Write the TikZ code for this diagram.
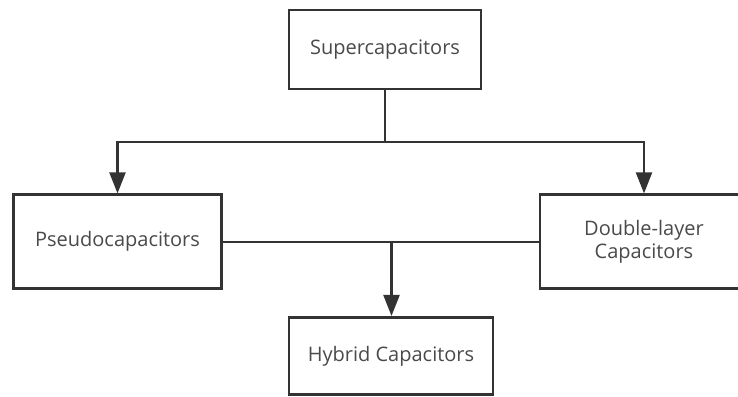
\documentclass[tikz,border=0pt]{standalone}
\usepackage{fontspec}
\setmainfont{Open Sans}
\usetikzlibrary{arrows.meta,positioning}
\definecolor{linec}{HTML}{333333}
\definecolor{textc}{HTML}{4A4A4A}
\tikzset{
  boxnode/.style={draw=linec, line width=2.6pt, rectangle, inner sep=0pt, fill=white,
    text=textc, font=\fontsize{20}{23}\selectfont, align=center},
  conn/.style={draw=linec, line width=2.2pt},
  arr/.style={conn, -{Triangle[length=21pt,width=16pt]}}
}
\begin{document}
\begin{tikzpicture}[x=1pt,y=-1pt]
\useasboundingbox (0,0) rectangle (738,396);
\fill[white] (0,0) rectangle (738,396);
\clip (0,0) rectangle (738,396);
\node[boxnode, minimum width=192pt, minimum height=79pt] (sup) at (385,49.5) {Supercapacitors};
\node[boxnode, minimum width=208pt, minimum height=94pt] (pseudo) at (117.5,241.7) {Pseudocapacitors};
\node[boxnode, minimum width=208pt, minimum height=94pt] (dbl) at (644,241.7) {Double-layer\\Capacitors};
\node[boxnode, minimum width=204pt, minimum height=77.5pt] (hyb) at (391,356) {Hybrid Capacitors};
\coordinate (j1) at (385,142);
\coordinate (j2) at (391.5,241.7);
\draw[conn] (sup.south) -- (j1);
\draw[conn] (118,142) -- (644,142);
\draw[arr] (j1) -| (pseudo.north);
\draw[arr] (j1) -| (dbl.north);
\draw[conn] (pseudo.east) -- (dbl.west);
\draw[arr] (j2) -- (j2 |- hyb.north);
\end{tikzpicture}
\end{document}
